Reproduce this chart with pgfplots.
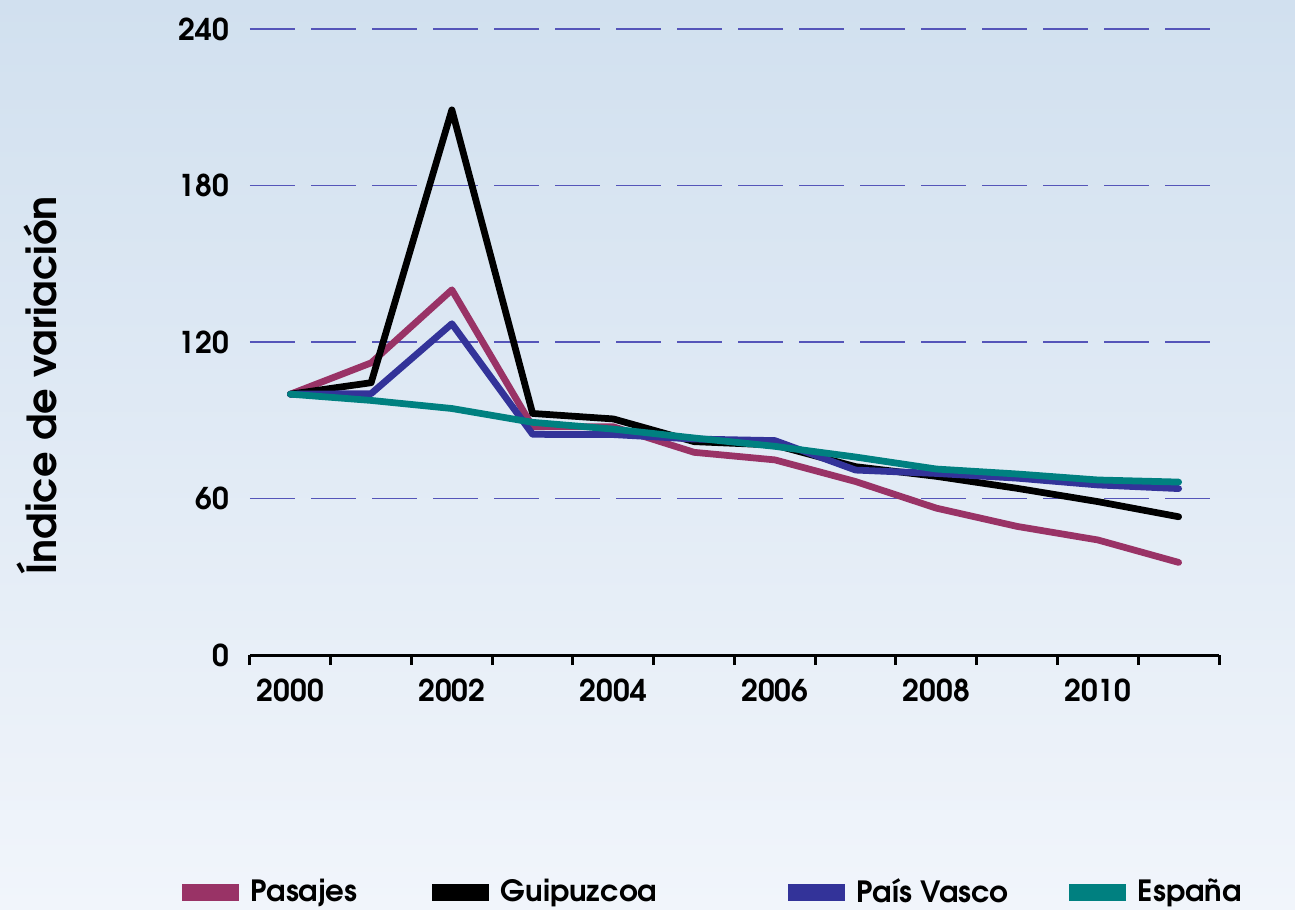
\documentclass[border=0pt]{standalone}
\usepackage{fontspec}
\setmainfont{TeX Gyre Adventor}
\usepackage{pgfplots}
\pgfplotsset{compat=1.18}

\definecolor{pasajes}{RGB}{153,51,102}
\definecolor{pvasco}{RGB}{51,51,153}
\definecolor{espana}{RGB}{0,128,128}
\definecolor{gridblue}{RGB}{85,85,185}
\definecolor{bgtop}{RGB}{209,224,239}
\definecolor{bgbot}{RGB}{241,245,251}

\begin{document}
\begin{tikzpicture}
\shade[top color=bgtop, bottom color=bgbot] (-100pt,-101.6pt) rectangle (418pt,262pt);
\begin{axis}[
  at={(0,0)}, anchor=south west,
  width=387.6pt, height=250.4pt, scale only axis,
  xmin=1999.5, xmax=2011.5,
  ymin=0, ymax=240,
  axis x line*=bottom, axis y line*=left,
  x axis line style={-, line width=1.2pt, black},
  y axis line style={draw=none},
  xtick={2000,2002,...,2010},
  minor xtick={1999.5,2000.5,...,2011.5},
  ytick={0,60,...,240},
  major tick length=0pt,
  minor tick length=4pt,
  tick align=outside,
  minor tick style={line width=1.2pt, black},
  ymajorgrids,
  major grid style={gridblue, line width=0.45pt, dash pattern=on 18pt off 6.4pt},
  /pgf/number format/.cd, 1000 sep={}, assume math mode=true, /pgfplots/.cd,
  ticklabel style={font=\bfseries\fontsize{12}{14}\selectfont, text=black},
  xticklabel style={yshift=-6pt},
  yticklabel style={xshift=-4.8pt},
  ylabel={Índice de variación},
  ylabel style={at={(axis description cs:-0.2195,0.431)}, anchor=center,
    font=\bfseries\fontsize{16}{18}\selectfont},
  legend columns=4,
  legend cell align=left,
  legend image code/.code={\fill[#1, draw=none] (0pt,-3.4pt) rectangle (22.8pt,3.4pt);},
  legend style={at={(axis description cs:-0.0702,-0.3786)}, anchor=west,
    draw=none, fill=none, inner sep=0pt, outer sep=0pt,
    font=\bfseries\fontsize{11.7}{13}\selectfont,
    nodes={inner sep=0pt},
    /tikz/every odd column/.append style={column sep=4.8pt}},
  every axis plot/.append style={line width=2.7pt, line cap=round, line join=round},
]
\addplot[color=pasajes] coordinates {
  (2000,100) (2001,112) (2002,140) (2003,87.5) (2004,87.5) (2005,77.7)
  (2006,74.8) (2007,66.5) (2008,56.3) (2009,49.3) (2010,44.1) (2011,35.5)
};
\addlegendentry{\makebox[72.4pt][l]{Pasajes}}
\addplot[color=black] coordinates {
  (2000,100) (2001,104.4) (2002,209) (2003,92.6) (2004,90.5) (2005,81.8)
  (2006,80.5) (2007,72.2) (2008,68.5) (2009,63.9) (2010,58.8) (2011,53)
};
\addlegendentry{\makebox[114.8pt][l]{Guipuzcoa}}
\addplot[color=pvasco] coordinates {
  (2000,100) (2001,100.2) (2002,127) (2003,84.6) (2004,84.5) (2005,82.8)
  (2006,82.2) (2007,70.9) (2008,69.6) (2009,67.8) (2010,65.2) (2011,63.8)
};
\addlegendentry{\makebox[84.8pt][l]{País Vasco}}
\addplot[color=espana] coordinates {
  (2000,100) (2001,97.6) (2002,94.5) (2003,89.2) (2004,86.6) (2005,83.2)
  (2006,80) (2007,75.9) (2008,71.3) (2009,69.4) (2010,67.1) (2011,66.3)
};
\addlegendentry{España}
\end{axis}
\pgfresetboundingbox
\path (-100pt,-101.6pt) rectangle (418pt,262pt);
\end{tikzpicture}
\end{document}
